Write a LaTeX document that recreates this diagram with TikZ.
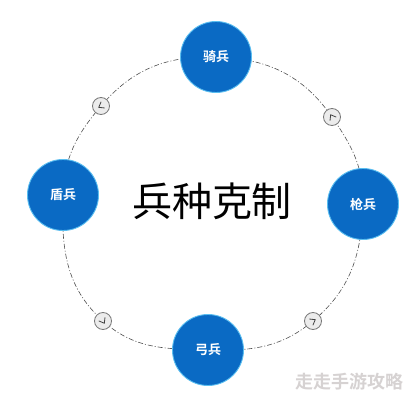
\documentclass[tikz,border=0pt]{standalone}
\usepackage{fontspec}
\newfontfamily\cjk{Noto Sans CJK SC}
\newfontfamily\cjkbold{Noto Sans CJK SC Bold}
\definecolor{nodeblue}{RGB}{10,106,196}
\definecolor{nodeedge}{RGB}{90,190,240}
\definecolor{ringgray}{RGB}{80,80,80}
\definecolor{markfill}{RGB}{236,236,236}
\definecolor{markedge}{RGB}{120,120,120}
\definecolor{wmgray}{RGB}{214,210,210}
\begin{document}
\begin{tikzpicture}[x=1pt,y=1pt,
  unitnode/.style={circle,fill=nodeblue,draw=nodeedge,line width=0.9pt,minimum size=71pt,inner sep=0pt,text=white,font=\cjkbold\fontsize{13}{15}\selectfont},
  marknode/.style={circle,fill=markfill,draw=markedge,line width=0.8pt,minimum size=17pt,inner sep=0pt},
  ring/.style={draw=ringgray,line width=0.6pt,dash pattern=on 5pt off 2pt on 1pt off 2pt},
  chev/.style={draw=ringgray!80!black,line width=0.8pt,line join=miter}
]
\fill[white] (0,0) rectangle (416,400);
\useasboundingbox (0,0) rectangle (416,400);
% positions
\coordinate (pTop) at (216,343);
\coordinate (pLeft) at (63,205);
\coordinate (pRight) at (363,196);
\coordinate (pBottom) at (208,50);
\coordinate (pTL) at (101,294);
\coordinate (pTR) at (332,283);
\coordinate (pBL) at (103,79);
\coordinate (pBR) at (313,79);
% ring
\draw[ring] (pTop) to[out=-1.6,in=124.7] (pTR) to[out=-55.3,in=88.5] (pRight)
  to[out=-91.5,in=39.9] (pBR) to[out=-140.1,in=-1.5] (pBottom)
  to[out=178.5,in=-42] (pBL) to[out=138,in=268] (pLeft)
  to[out=88,in=229.7] (pTL) to[out=49.7,in=178.4] (pTop);
% small marks
\node[marknode] (mTL) at (pTL) {};
\node[marknode] (mTR) at (pTR) {};
\node[marknode] (mBL) at (pBL) {};
\node[marknode] (mBR) at (pBR) {};
\begin{scope}[shift={(pTL)},rotate=210]
  \draw[chev] (-2.2,3.6) -- (2.6,0) -- (-2.2,-3.6);
\end{scope}
\begin{scope}[shift={(pTR)},rotate=120]
  \draw[chev] (-2.2,3.6) -- (2.6,0) -- (-2.2,-3.6);
\end{scope}
\begin{scope}[shift={(pBR)},rotate=30]
  \draw[chev] (-2.2,3.6) -- (2.6,0) -- (-2.2,-3.6);
\end{scope}
\begin{scope}[shift={(pBL)},rotate=-60]
  \draw[chev] (-2.2,3.6) -- (2.6,0) -- (-2.2,-3.6);
\end{scope}
% unit nodes
\node[unitnode] (top) at (pTop) {骑兵};
\node[unitnode] (left) at (pLeft) {盾兵};
\node[unitnode] (right) at (pRight) {枪兵};
\node[unitnode] (bottom) at (pBottom) {弓兵};
% title
\node[font=\cjk\fontsize{40}{44}\selectfont,text=black,inner sep=0pt] (title) at (212,199) {兵种克制};
% watermark
\node[font=\cjkbold\fontsize{18}{20}\selectfont,text=wmgray,inner sep=0pt] (wm) at (349,18) {走走手游攻略};
\end{tikzpicture}
\end{document}
